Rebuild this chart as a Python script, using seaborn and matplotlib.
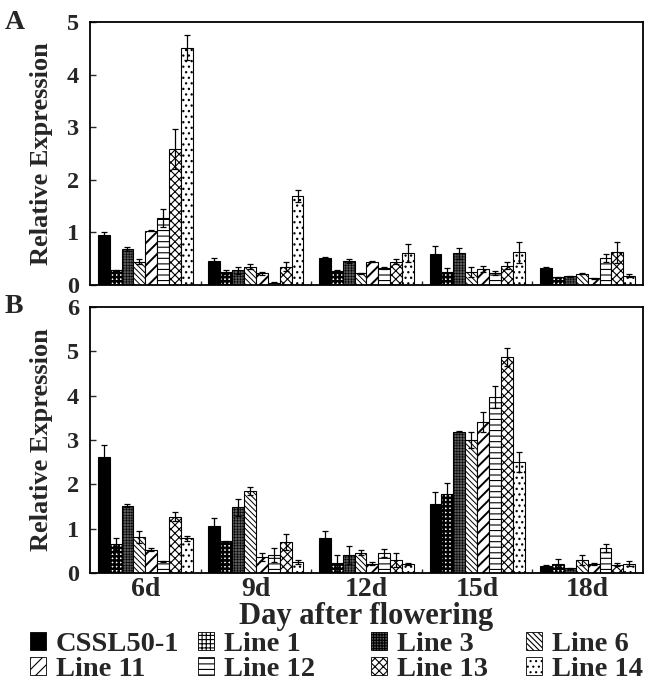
import matplotlib
matplotlib.use("Agg")
import pandas as pd
import matplotlib.pyplot as plt
import matplotlib.patches as mpatches
from matplotlib.ticker import FixedLocator, MultipleLocator
import seaborn as sns

# --- DATA ---
days = ["6d", "9d", "12d", "15d", "18d"]
lines = ["CSSL50-1", "Line 1", "Line 3", "Line 6", "Line 11", "Line 12", "Line 13", "Line 14"]

# panel A, one row per line, one column per day
a_mean = [
    [0.95, 0.46, 0.51, 0.58, 0.33],
    [0.28, 0.24, 0.27, 0.25, 0.15],
    [0.68, 0.28, 0.46, 0.60, 0.17],
    [0.44, 0.35, 0.22, 0.25, 0.21],
    [1.03, 0.22, 0.44, 0.31, 0.13],
    [1.27, 0.04, 0.33, 0.23, 0.51],
    [2.59, 0.35, 0.44, 0.37, 0.62],
    [4.51, 1.69, 0.60, 0.62, 0.18],
]
a_err = [
    [0.06, 0.06, 0.02, 0.16, 0.02],
    [0.01, 0.04, 0.01, 0.08, 0.01],
    [0.04, 0.07, 0.04, 0.10, 0.01],
    [0.05, 0.04, 0.01, 0.10, 0.01],
    [0.01, 0.03, 0.01, 0.06, 0.01],
    [0.17, 0.01, 0.02, 0.04, 0.07],
    [0.38, 0.08, 0.05, 0.06, 0.20],
    [0.24, 0.12, 0.17, 0.20, 0.03],
]

# panel B
b_mean = [
    [2.61, 1.06, 0.78, 1.55, 0.15],
    [0.66, 0.72, 0.23, 1.79, 0.21],
    [1.52, 1.48, 0.41, 3.19, 0.11],
    [0.81, 1.84, 0.46, 3.00, 0.30],
    [0.53, 0.36, 0.21, 3.41, 0.20],
    [0.26, 0.41, 0.45, 3.97, 0.57],
    [1.27, 0.69, 0.29, 4.87, 0.19],
    [0.78, 0.25, 0.20, 2.51, 0.21],
]
b_err = [
    [0.28, 0.18, 0.17, 0.27, 0.02],
    [0.14, 0.01, 0.18, 0.25, 0.10],
    [0.03, 0.20, 0.20, 0.02, 0.01],
    [0.14, 0.09, 0.05, 0.17, 0.11],
    [0.04, 0.09, 0.03, 0.22, 0.03],
    [0.01, 0.16, 0.10, 0.24, 0.09],
    [0.10, 0.18, 0.16, 0.21, 0.04],
    [0.05, 0.05, 0.03, 0.23, 0.06],
]

face_colors = ["black", "white", "#5a5a5a", "white", "white", "white", "white", "white"]
hatches = [None, "++++", "++++++", "\\\\\\\\\\\\", "///", "---", "xxxx", "..."]
hatch_widths = [0.8, 1.8, 0.4, 0.7, 1.4, 0.8, 0.8, 0.9]

# --- STYLE ---
sns.set_style("white")
plt.rcParams["font.family"] = ["Liberation Serif", "DejaVu Serif"]
plt.rcParams["font.weight"] = "bold"
plt.rcParams["axes.labelweight"] = "bold"
plt.rcParams["hatch.linewidth"] = 0.8
plt.rcParams["hatch.color"] = "black"


def style_patch(p, i):
    if hatches[i]:
        p.set_hatch(hatches[i])
        if hasattr(p, "set_hatch_linewidth"):
            p.set_hatch_linewidth(hatch_widths[i])


def long_table(mean):
    rows = []
    for i, name in enumerate(lines):
        for j, d in enumerate(days):
            rows.append({"day": d, "line": name, "value": mean[i][j]})
    return pd.DataFrame(rows)


def draw_panel(ax, mean, err, ymax):
    df = long_table(mean)
    sns.barplot(data=df, x="day", y="value", hue="line", order=days, hue_order=lines,
                palette=dict(zip(lines, face_colors)), saturation=1, width=0.86,
                errorbar=None, edgecolor="black", linewidth=0.8, legend=False, ax=ax)
    bar_groups = list(ax.containers)
    for i, bars in enumerate(bar_groups):
        xs, hs = [], []
        for p in bars:
            style_patch(p, i)
            xs.append(p.get_x() + p.get_width() / 2)
            hs.append(p.get_height())
        ax.errorbar(xs, hs, yerr=err[i], fmt="none", ecolor="black",
                    elinewidth=0.9, capsize=2.5, capthick=0.9)

    ax.set_xlim(-0.5, 4.5)
    ax.set_ylim(0, ymax)
    ax.yaxis.set_major_locator(MultipleLocator(1))
    ax.xaxis.set_minor_locator(FixedLocator([0.5, 1.5, 2.5, 3.5]))
    ax.tick_params(axis="y", direction="in", length=4, width=1, labelsize=17.5, pad=8, left=True)
    ax.tick_params(axis="x", which="major", length=0, labelsize=20, pad=3)
    ax.tick_params(axis="x", which="minor", direction="in", length=3, width=1, bottom=True)
    for s in ax.spines.values():
        s.set_color("black")
        s.set_linewidth(1.3)
    ax.set_ylabel("Relative Expression", fontsize=19, labelpad=10)
    ax.set_xlabel("")


# --- FIGURE ---
fig = plt.figure(figsize=(6.5, 6.88), dpi=100)
ax_a = fig.add_axes([90 / 650, 1 - 285 / 688, 553 / 650, 263 / 688])
ax_b = fig.add_axes([90 / 650, 1 - 573 / 688, 553 / 650, 266 / 688])

draw_panel(ax_a, a_mean, a_err, 5)
draw_panel(ax_b, b_mean, b_err, 6)
ax_a.set_xticklabels([])
ax_b.set_xlabel("Day after flowering", fontsize=22, labelpad=0)

fig.text(5 / 650, 1 - 10 / 688, "A", fontsize=20, va="top", ha="left")
fig.text(5 / 650, 1 - 294 / 688, "B", fontsize=20, va="top", ha="left")

# legend: one column of two entries at each position
handles = []
for i in range(len(lines)):
    h = mpatches.Patch(facecolor=face_colors[i], edgecolor="black", linewidth=0.6, label=lines[i])
    style_patch(h, i)
    handles.append(h)
col_x = [30, 198, 371, 526]
for j, x in enumerate(col_x):
    fig.legend(handles=[handles[j], handles[j + 4]], loc="upper left",
               bbox_to_anchor=(x / 650, 1 - 632 / 688), frameon=False,
               fontsize=20.5, handlelength=0.55, handleheight=0.55, handletextpad=0.35,
               borderpad=0, borderaxespad=0, labelspacing=0)

fig.savefig("out.png", dpi=100)
